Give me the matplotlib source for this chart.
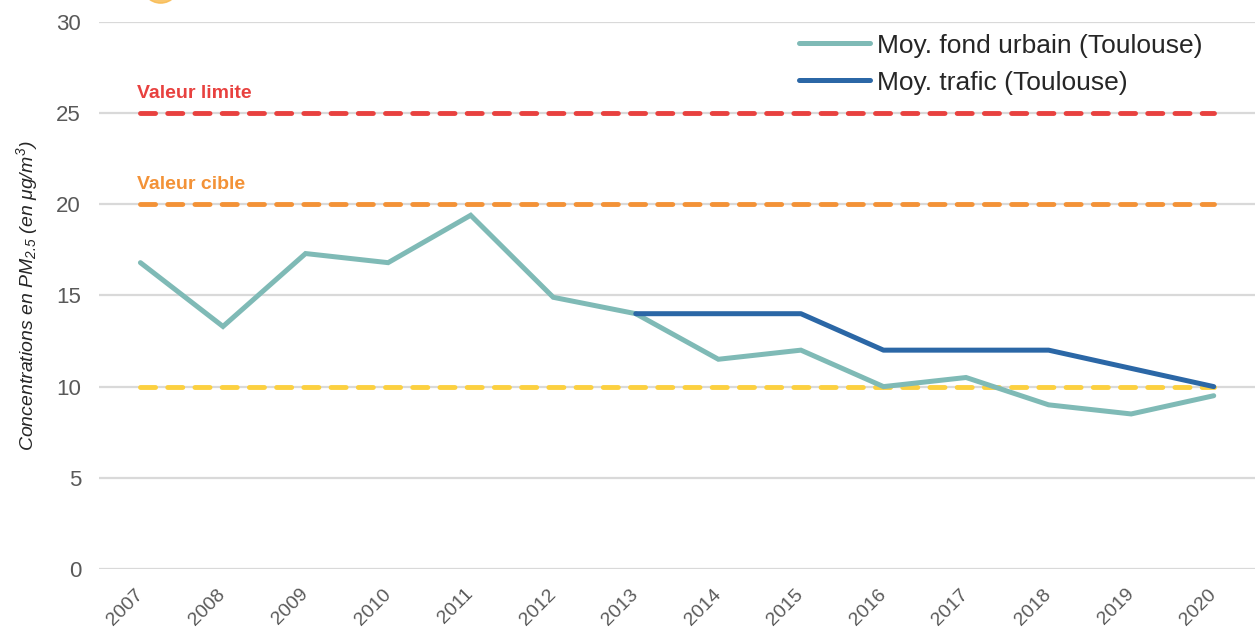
import matplotlib.pyplot as plt
from matplotlib.patches import Ellipse
from matplotlib.transforms import ScaledTranslation

plt.rcParams['font.family'] = ['Liberation Sans', 'DejaVu Sans']
plt.rcParams['mathtext.fontset'] = 'custom'
plt.rcParams['mathtext.it'] = 'Liberation Sans:italic'
plt.rcParams['mathtext.rm'] = 'Liberation Sans:italic'

years = ['2007', '2008', '2009', '2010', '2011', '2012', '2013',
         '2014', '2015', '2016', '2017', '2018', '2019', '2020']
fond_urbain = [16.8, 13.3, 17.3, 16.8, 19.4, 14.9, 14.0,
               11.5, 12.0, 10.0, 10.5, 9.0, 8.5, 9.5]
trafic_years = years[6:]
trafic = [14, 14, 14, 12, 12, 12, 11, 10]

valeur_limite = 25
valeur_cible = 20
seuil_oms = 10

x = list(range(len(years)))
x_trafic = [years.index(y) for y in trafic_years]

fig = plt.figure(figsize=(12.55, 6.3), dpi=100)
ax = fig.add_axes([0.079, 0.097, 0.921, 0.868])

# reference thresholds, dashed across the whole period
for val, col in [(valeur_limite, '#e8413f'), (valeur_cible, '#f39237'), (seuil_oms, '#fcd03f')]:
    ax.plot([x[0], x[-1]], [val, val], color=col, lw=3.5, dashes=(3.1, 2.5),
            dash_capstyle='round', zorder=2)

ax.plot(x, fond_urbain, color='#7fbab6', lw=3.6, solid_capstyle='round',
        solid_joinstyle='miter', label='Moy. fond urbain (Toulouse)', zorder=3)
ax.plot(x_trafic, trafic, color='#2b67a6', lw=3.6, solid_capstyle='round',
        label='Moy. trafic (Toulouse)', zorder=4)

ax.text(-0.04, valeur_limite + 0.6, 'Valeur limite', color='#e8413f', fontsize=14,
        fontweight='bold', ha='left', va='bottom')
ax.text(-0.04, valeur_cible + 0.6, 'Valeur cible', color='#f39237', fontsize=14,
        fontweight='bold', ha='left', va='bottom')

ax.set_xlim(-0.5, len(years) - 0.5)
ax.set_ylim(0, 30)
ax.set_yticks(range(0, 31, 5))
ax.set_xticks(x)
ax.set_xticklabels(years, rotation=45, ha='right', rotation_mode='anchor')
ax.tick_params(axis='y', length=0, colors='#595959', labelsize=16, pad=13)
ax.tick_params(axis='x', length=0, colors='#595959', labelsize=14, pad=12)
shift = ScaledTranslation(-6 / 100, 0, fig.dpi_scale_trans)
for lbl in ax.get_xticklabels():
    lbl.set_transform(lbl.get_transform() + shift)
ax.grid(axis='y', color='#d9d9d9', lw=1.6)
ax.set_axisbelow(True)
for s in ax.spines.values():
    s.set_visible(False)

ax.set_ylabel(r'Concentrations en $PM_{2.5}$ (en $\mu g/m^3$)', fontsize=14,
              style='italic', color='#262626', labelpad=12)

leg = ax.legend(loc='upper right', bbox_to_anchor=(0.968, 1.008), frameon=False,
                fontsize=19, handlelength=2.7, handletextpad=0.25, labelspacing=0.5,
                borderaxespad=0.2)
for t in leg.get_texts():
    t.set_color('#262626')

# partial orange badge at the top edge
fig.patches.append(Ellipse((0.128, 1.03), 0.032, 0.07, transform=fig.transFigure,
                           color='#f8b84a', alpha=0.8, zorder=0))

fig.savefig('out.png', dpi=100)
